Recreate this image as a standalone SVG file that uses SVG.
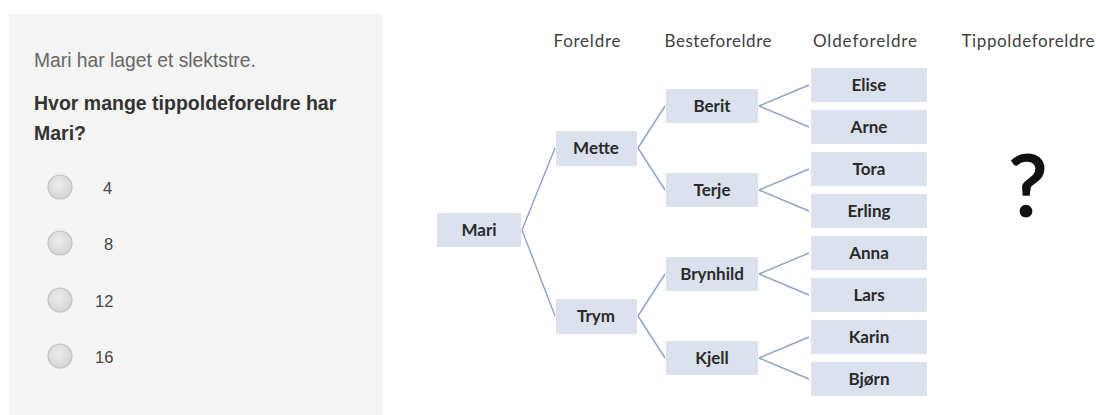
<svg xmlns="http://www.w3.org/2000/svg" width="1096" height="415" viewBox="0 0 1096 415">
<defs>
<style>
.panel{fill:#f4f4f4}
.intro{font-family:"Liberation Sans",Arial,sans-serif;font-size:19.3px;fill:#666}
.q{font-family:"Liberation Sans",Arial,sans-serif;font-size:19.5px;font-weight:bold;fill:#333}
.opt{font-family:"Liberation Sans",Arial,sans-serif;font-size:16.5px;fill:#444}
.radio{fill:url(#rg);stroke:#c4c4c4;stroke-width:1.2}
.hdr{font-family:Lato,"DejaVu Sans",sans-serif;font-size:17px;fill:#404040;text-anchor:middle}
.box{fill:#dbe2ee}
.lbl{font-family:Lato,"DejaVu Sans",sans-serif;font-size:17px;font-weight:bold;fill:#2a2a2a;text-anchor:middle}
.con line{stroke:#8ea3bf;stroke-width:1.4;fill:none}
.qm{font-family:Lato,"DejaVu Sans",sans-serif;font-size:86px;fill:#111;stroke:#111;stroke-width:2;text-anchor:middle}
</style>
<radialGradient id="rg" cx="0.45" cy="0.4" r="0.6">
<stop offset="0" stop-color="#ebebeb"/>
<stop offset="1" stop-color="#d6d6d6"/>
</radialGradient>
</defs>

<rect width="1096" height="415" fill="#ffffff"/>

<g id="question-panel">
<rect class="panel" x="9" y="14" width="373" height="401"/>
<text class="intro" x="34" y="67">Mari har laget et slektstre.</text>
<text class="q" x="34" y="110">Hvor mange tippoldeforeldre har</text>
<text class="q" x="34" y="140">Mari?</text>
<circle class="radio" cx="60" cy="187" r="12"/>
<text class="opt" x="103" y="194">4</text>
<circle class="radio" cx="60" cy="243" r="12"/>
<text class="opt" x="104" y="250">8</text>
<circle class="radio" cx="60" cy="300" r="12"/>
<text class="opt" x="95" y="307">12</text>
<circle class="radio" cx="60" cy="356" r="12"/>
<text class="opt" x="95" y="363">16</text>
</g>

<g id="headers">
<text class="hdr" x="587" y="47" textLength="67">Foreldre</text>
<text class="hdr" x="718" y="47" textLength="107">Besteforeldre</text>
<text class="hdr" x="865" y="47" textLength="104">Oldeforeldre</text>
<text class="hdr" x="1028" y="47" textLength="133">Tippoldeforeldre</text>
</g>

<g id="connectors" class="con">
<line x1="522" y1="230" x2="555" y2="148"/>
<line x1="522" y1="230" x2="555" y2="316"/>
<line x1="638" y1="148" x2="665" y2="106"/>
<line x1="638" y1="148" x2="665" y2="190"/>
<line x1="638" y1="316" x2="665" y2="274"/>
<line x1="638" y1="316" x2="665" y2="358"/>
<line x1="759" y1="106" x2="809" y2="85"/>
<line x1="759" y1="106" x2="809" y2="127"/>
<line x1="759" y1="190" x2="809" y2="169"/>
<line x1="759" y1="190" x2="809" y2="211"/>
<line x1="759" y1="274" x2="809" y2="253"/>
<line x1="759" y1="274" x2="809" y2="295"/>
<line x1="759" y1="358" x2="809" y2="337"/>
<line x1="759" y1="358" x2="809" y2="379"/>
</g>

<g id="node-mari"><rect class="box" x="437" y="213" width="84" height="34"/><text class="lbl" x="479" y="236">Mari</text></g>
<g id="node-mette"><rect class="box" x="556" y="131" width="81" height="35"/><text class="lbl" x="596" y="154">Mette</text></g>
<g id="node-trym"><rect class="box" x="556" y="299" width="81" height="35"/><text class="lbl" x="596" y="322">Trym</text></g>
<g id="node-berit"><rect class="box" x="666" y="89" width="92" height="34"/><text class="lbl" x="712" y="112">Berit</text></g>
<g id="node-terje"><rect class="box" x="666" y="173" width="92" height="34"/><text class="lbl" x="712" y="196">Terje</text></g>
<g id="node-brynhild"><rect class="box" x="666" y="257" width="92" height="34"/><text class="lbl" x="712" y="280">Brynhild</text></g>
<g id="node-kjell"><rect class="box" x="666" y="341" width="92" height="34"/><text class="lbl" x="712" y="364">Kjell</text></g>
<g id="node-elise"><rect class="box" x="811" y="68" width="116" height="34"/><text class="lbl" x="869" y="91">Elise</text></g>
<g id="node-arne"><rect class="box" x="811" y="110" width="116" height="34"/><text class="lbl" x="869" y="133">Arne</text></g>
<g id="node-tora"><rect class="box" x="811" y="152" width="116" height="34"/><text class="lbl" x="869" y="175">Tora</text></g>
<g id="node-erling"><rect class="box" x="811" y="194" width="116" height="34"/><text class="lbl" x="869" y="217">Erling</text></g>
<g id="node-anna"><rect class="box" x="811" y="236" width="116" height="34"/><text class="lbl" x="869" y="259">Anna</text></g>
<g id="node-lars"><rect class="box" x="811" y="278" width="116" height="34"/><text class="lbl" x="869" y="301">Lars</text></g>
<g id="node-karin"><rect class="box" x="811" y="320" width="116" height="34"/><text class="lbl" x="869" y="343">Karin</text></g>
<g id="node-bjorn"><rect class="box" x="811" y="362" width="116" height="34"/><text class="lbl" x="869" y="385">Bjørn</text></g>

<g id="unknown"><text class="qm" x="1028" y="216">?</text></g>
</svg>
